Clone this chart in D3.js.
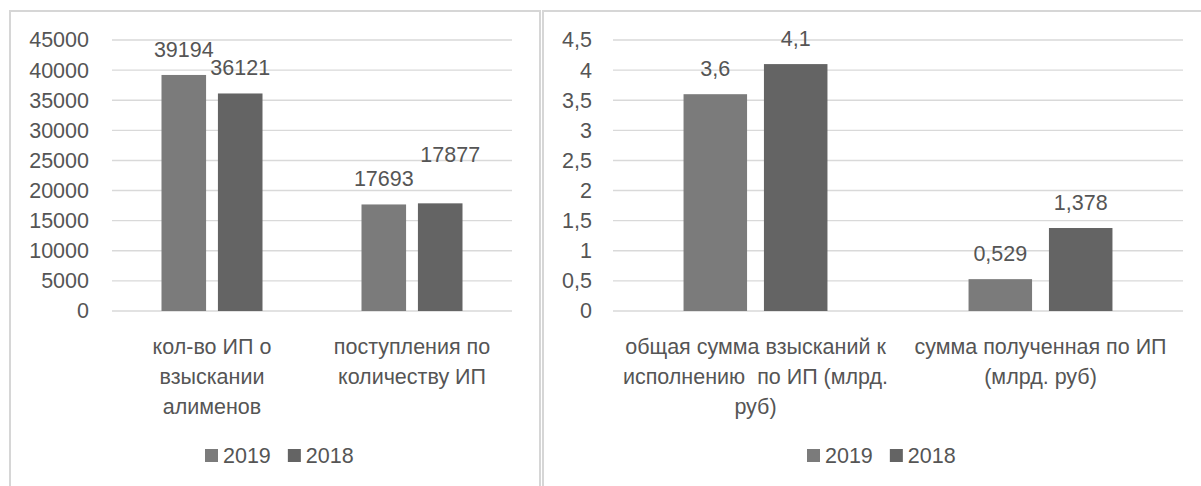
<!DOCTYPE html>
<html>
<head>
<meta charset="utf-8">
<script src="https://cdn.jsdelivr.net/npm/d3@7"></script>
<style>
  body { margin: 0; background: #fff; }
  svg { display: block; }
</style>
</head>
<body>
<div id="chart"></div>
<script>
// data
const years = ["2019", "2018"];

const leftCategories = [
  ["кол-во ИП о", "взыскании", "алименов"],
  ["поступления по", "количеству ИП"]
];
const left2019 = [39194, 17693];
const left2018 = [36121, 17877];
const leftTicks = [0, 5000, 10000, 15000, 20000, 25000, 30000, 35000, 40000, 45000];

const rightCategories = [
  ["общая сумма взысканий к", "исполнению  по ИП (млрд.", "руб)"],
  ["сумма полученная по ИП", "(млрд. руб)"]
];
const right2019 = [3.6, 0.529];
const right2018 = [4.1, 1.378];
const rightTicks = [0, 0.5, 1, 1.5, 2, 2.5, 3, 3.5, 4, 4.5];

const width = 1201;
const height = 486;
const colors = { "2019": "#7b7b7b", "2018": "#646464" };
const textColor = "#555555";
const font = "'Liberation Sans', Arial, sans-serif";

// russian style decimals: 4,5 / 0,529
const ru = d3.formatLocale({ decimal: ",", thousands: "", grouping: [3], currency: ["", ""] });
const fmt = ru.format("~g");

const svg = d3.select("#chart")
  .append("svg")
  .attr("width", width)
  .attr("height", height)
  .style("background-color", "white");

function drawChart(cfg) {
  const g = svg.append("g");

  // panel border
  g.append("rect")
    .attr("x", cfg.panel[0])
    .attr("y", cfg.panel[1])
    .attr("width", cfg.panel[2])
    .attr("height", cfg.panel[3])
    .attr("fill", "none")
    .attr("stroke", "#d6d6d6")
    .attr("stroke-width", 2);

  const x = d3.scaleBand()
    .domain(d3.range(cfg.categories.length))
    .range([cfg.left, cfg.right]);

  const xSub = d3.scaleBand()
    .domain(years)
    .range([0, x.bandwidth() * 0.505])
    .paddingInner(0.21);

  const y = d3.scaleLinear()
    .domain([0, cfg.ticks[cfg.ticks.length - 1]])
    .range([311, 40]);

  // gridlines
  g.append("g")
    .selectAll("line")
    .data(cfg.ticks)
    .enter().append("line")
    .attr("x1", cfg.left)
    .attr("x2", cfg.right)
    .attr("y1", d => y(d))
    .attr("y2", d => y(d))
    .attr("stroke", "#d9d9d9")
    .attr("stroke-width", 1.4);

  // y axis labels
  const yAxis = g.append("g")
    .attr("transform", `translate(${cfg.left},0)`)
    .call(d3.axisLeft(y).tickValues(cfg.ticks).tickSize(0).tickPadding(cfg.tickPad).tickFormat(fmt));
  yAxis.select(".domain").remove();
  yAxis.selectAll("text")
    .style("font-family", font)
    .style("font-size", "21.5px")
    .attr("fill", textColor);

  const rows = [];
  cfg.categories.forEach((c, i) => {
    years.forEach((yr, j) => {
      rows.push({ i: i, year: yr, value: cfg.series[j][i] });
    });
  });

  const offset = x.bandwidth() * (1 - 0.505) / 2;

  // bars
  g.append("g")
    .selectAll("rect")
    .data(rows)
    .enter().append("rect")
    .attr("x", d => x(d.i) + offset + xSub(d.year))
    .attr("y", d => y(d.value))
    .attr("width", xSub.bandwidth())
    .attr("height", d => y(0) - y(d.value))
    .attr("fill", d => colors[d.year]);

  // value labels (one was dragged by hand in the original)
  g.append("g")
    .selectAll("text")
    .data(rows)
    .enter().append("text")
    .attr("x", d => {
      const n = cfg.nudge[d.i + "-" + d.year] || [0, 0];
      return x(d.i) + offset + xSub(d.year) + xSub.bandwidth() / 2 + n[0];
    })
    .attr("y", d => {
      const n = cfg.nudge[d.i + "-" + d.year] || [0, 0];
      return y(d.value) - 18 + n[1];
    })
    .attr("text-anchor", "middle")
    .style("font-family", font)
    .style("font-size", "21.5px")
    .attr("fill", textColor)
    .text(d => fmt(d.value));

  // category labels, wrapped like excel did
  const cat = g.append("g")
    .selectAll("text")
    .data(cfg.categories)
    .enter().append("text")
    .attr("text-anchor", "middle")
    .style("font-family", font)
    .style("font-size", "21.5px")
    .attr("fill", textColor);
  cat.each(function(lines, i) {
    d3.select(this).selectAll("tspan")
      .data(lines)
      .enter().append("tspan")
      .attr("x", x(i) + x.bandwidth() / 2)
      .attr("y", (d, k) => 354 + k * 30)
      .style("white-space", "pre")
      .text(d => d);
  });

  // legend
  const legend = g.append("g").attr("transform", `translate(${cfg.legendX},449)`);
  let lx = 0;
  years.forEach(yr => {
    legend.append("rect")
      .attr("x", lx)
      .attr("y", 0)
      .attr("width", 13)
      .attr("height", 13)
      .attr("fill", colors[yr]);
    const t = legend.append("text")
      .attr("x", lx + 18)
      .attr("y", 14)
      .style("font-family", font)
      .style("font-size", "21.5px")
      .attr("fill", textColor)
      .text(yr);
    lx += 18 + t.node().getComputedTextLength() + 17;
  });
}

drawChart({
  panel: [10, 11, 530, 490],
  left: 112,
  right: 512,
  tickPad: 23,
  categories: leftCategories,
  series: [left2019, left2018],
  ticks: leftTicks,
  nudge: { "1-2018": [10, -23] },
  legendX: 205
});

drawChart({
  panel: [543, 11, 700, 490],
  left: 613,
  right: 1183,
  tickPad: 21,
  categories: rightCategories,
  series: [right2019, right2018],
  ticks: rightTicks,
  nudge: {},
  legendX: 807
});
</script>
</body>
</html>
